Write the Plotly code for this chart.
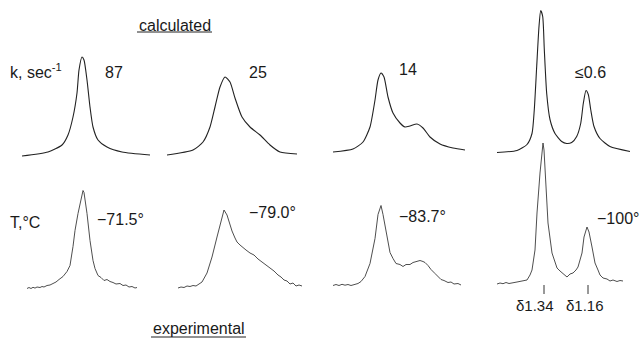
import plotly.graph_objects as go

# ---------------- data ----------------
# x: position along each spectrum (arbitrary units), y: intensity above baseline
calc_87_x = [2, 28, 42, 48, 53, 57, 59, 62, 64, 67, 70, 73, 78, 87, 102, 130]
calc_87_y = [0, 4, 11, 21, 39, 63, 86, 99, 96, 76, 49, 29, 16, 9, 4, 1]

calc_25_x = [2, 28, 38, 45, 50, 55, 60, 65, 70, 77, 85, 95, 105, 115, 132]
calc_25_y = [0, 5, 13, 28, 48, 68, 78, 73, 57, 38, 28, 20, 10, 3, 1]

calc_14_x = [3, 23, 33, 40, 45, 48, 51, 54, 58, 63, 70, 75, 80, 87, 93, 100, 110, 123, 135]
calc_14_y = [0, 3, 10, 25, 52, 72, 79, 75, 55, 39, 29, 25, 26, 28, 24, 15, 8, 4, 2]

calc_06_x = [2, 22, 32, 37, 39.3, 41.7, 44, 45.7, 47.7, 49.3, 51.7, 55, 60, 66.7, 71.7,
             76.7, 81.7, 85.7, 88.3, 91, 93.3, 95.7, 99, 105, 115, 135]
calc_06_y = [0, 2, 8, 19, 43, 86, 126, 142, 136, 103, 59, 33, 19, 11, 9,
             10, 16, 29, 49, 62, 58, 43, 26, 14, 6, 1]

exp_715_x = [2, 4, 6, 8, 10, 12, 15, 17, 19, 22, 25, 28, 31, 34, 38, 42, 45, 48, 50, 53, 56, 58,
             59, 62, 65, 68, 70, 73, 76, 79, 82, 85, 88, 91, 95, 98, 101, 104, 107, 110, 112]
exp_715_y = [0, 1, 0, 1.2, 0.4, 1.5, 1, 2, 1.5, 3, 3.5, 5, 6.5, 9, 12, 17, 23, 42, 58, 75, 90, 98,
             96, 75, 48, 28, 20, 13, 11, 8, 9, 7, 6, 4.5, 5, 3, 3.5, 1.5, 2, 0.5, 1]

exp_790_x = [3, 6, 9, 12, 15, 18, 21, 24, 27, 32, 37, 42, 46, 49, 52, 55, 57, 60, 62, 65, 67, 71,
             75, 79, 83, 87, 91, 95, 99, 103, 106, 109, 112, 115, 118, 121, 124, 127]
exp_790_y = [0, 1, 0.5, 2, 1.5, 2.5, 2, 4, 6, 15, 31, 51, 68, 78, 73, 62, 57, 50, 46, 43, 41, 38,
             35, 33, 29, 26, 23, 20, 17, 13, 11, 8, 7, 4, 5, 2, 3, 2]

exp_837_x = [3, 6, 9, 12, 15, 18, 21, 24, 28, 31, 35, 40, 45, 48, 51, 53, 57, 60, 63, 66, 70, 73,
             76, 80, 83, 87, 90, 93, 95, 98, 101, 105, 108, 111, 114, 118, 121, 124, 128, 131]
exp_837_y = [0, 1, 0, 1.2, 0.3, 1, 0, 0.8, 2, 4, 9, 22, 47, 71, 80, 71, 47, 33, 27, 22, 21, 19,
             21, 21, 23, 24, 25, 24, 23, 20, 16, 12, 9, 6, 5, 3, 3.5, 1.5, 2, 0.5]

exp_100_x = [2, 5, 8, 11, 14, 18, 22, 27, 32, 35, 37, 40, 42, 45, 47, 48, 49, 51, 53, 57, 60,
             62, 65, 67, 70, 72, 75, 78, 81, 83, 87, 89, 92, 94, 97, 100, 103, 105, 108, 112,
             115, 118, 122, 125, 128]
exp_100_y = [0, 1, 0.3, 1.5, 0.5, 1, 2, 3, 4, 9, 14, 34, 71, 111, 137, 141, 134, 101, 61, 31, 22,
             16, 13, 11, 8, 7, 10, 11, 14, 17, 31, 47, 57, 52, 37, 21, 14, 9, 6, 5,
             3, 4, 2.5, 3.5, 3]

shift_x = [49, 93]          # tick marks under the -100 deg spectrum
shift_labels = ["\u03b41.34", "\u03b41.16"]

rate_labels = ["87", "25", "14", "\u22640.6"]
temp_labels = ["\u221271.5\u00b0", "\u221279.0\u00b0", "\u221283.7\u00b0", "\u2212100\u00b0"]

calc = [(calc_87_x, calc_87_y), (calc_25_x, calc_25_y), (calc_14_x, calc_14_y), (calc_06_x, calc_06_y)]
expt = [(exp_715_x, exp_715_y), (exp_790_x, exp_790_y), (exp_837_x, exp_837_y), (exp_100_x, exp_100_y)]

# ---------------- layout geometry ----------------
W, H = 642, 344
XR = 140            # x range width (px)
YLO, YHI = -30, 150
top_left = [20, 165, 330, 495]
top_base = [156, 155, 152, 152.5]
bot_left = [25, 175, 330, 495]
bot_base = [288.5, 288, 285.5, 284]

fig = go.Figure()
layout_axes = {}
FONT = "Liberation Sans, Arial, sans-serif"


def add_panel(idx, xs, ys, left, base, color, width, shape):
    xa = "x" if idx == 1 else f"x{idx}"
    ya = "y" if idx == 1 else f"y{idx}"
    fig.add_trace(go.Scatter(x=xs, y=ys, mode="lines", xaxis=xa, yaxis=ya,
                             line=dict(color=color, width=width, shape=shape, smoothing=0.6),
                             hoverinfo="skip", showlegend=False))
    top_px = base - YHI
    bot_px = base - YLO
    xd = [left / W, (left + XR) / W]
    yd = [max(0, 1 - bot_px / H), min(1, 1 - top_px / H)]
    common = dict(visible=False, fixedrange=True, showgrid=False, zeroline=False)
    layout_axes["xaxis" if idx == 1 else f"xaxis{idx}"] = dict(domain=xd, range=[0, XR],
                                                               anchor=ya, **common)
    layout_axes["yaxis" if idx == 1 else f"yaxis{idx}"] = dict(domain=yd, range=[YLO, YHI],
                                                               anchor=xa, **common)
    return xa, ya


for i, (xs, ys) in enumerate(calc):
    add_panel(i + 1, xs, ys, top_left[i], top_base[i], "#222222", 1.1, "spline")
for i, (xs, ys) in enumerate(expt):
    add_panel(i + 5, xs, ys, bot_left[i], bot_base[i], "#3a3a3a", 0.9, "linear")

# chemical shift ticks on last experimental panel
for sx in shift_x:
    fig.add_trace(go.Scatter(x=[sx, sx], y=[-1, -10], mode="lines", xaxis="x8", yaxis="y8",
                             line=dict(color="#333", width=1), hoverinfo="skip", showlegend=False))

fig.update_layout(**layout_axes)

ann = []


def txt(text, px, py, size=16, xanchor="center"):
    ann.append(dict(text=text, x=px / W, y=1 - py / H, xref="paper", yref="paper",
                    showarrow=False, xanchor=xanchor, yanchor="middle",
                    font=dict(family=FONT, size=size, color="#1a1a1a")))


txt("calculated", 175, 25, 16)
txt("experimental", 199, 328, 16)
txt("k, sec<sup>-1</sup>", 8, 71, 16, "left")
txt("T,\u00b0C", 8, 222, 16, "left")
for lab, px, py in zip(rate_labels, [114, 258, 408, 590], [72, 72, 69, 72]):
    txt(lab, px, py, 16)
for lab, px, py, xa in zip(temp_labels, [95, 247, 397, 641], [219, 212, 216, 218],
                           ["left", "left", "left", "right"]):
    txt(lab, px, py, 16, xa)
for lab, sx, dx in zip(shift_labels, shift_x, [-9, -3]):
    ann.append(dict(text=lab, x=sx + dx, y=-21, xref="x8", yref="y8", showarrow=False,
                    xanchor="center", yanchor="middle",
                    font=dict(family=FONT, size=15, color="#1a1a1a")))

shapes = [
    dict(type="line", xref="paper", yref="paper", x0=137 / W, x1=212 / W,
         y0=1 - 32 / H, y1=1 - 32 / H, line=dict(color="#222", width=1)),
    dict(type="line", xref="paper", yref="paper", x0=151 / W, x1=246 / W,
         y0=1 - 337 / H, y1=1 - 337 / H, line=dict(color="#222", width=1)),
]

fig.update_layout(width=W, height=H, margin=dict(l=0, r=0, t=0, b=0),
                  paper_bgcolor="white", plot_bgcolor="rgba(0,0,0,0)",
                  annotations=ann, shapes=shapes, showlegend=False)

fig.write_html("out.html", config={"displayModeBar": False},
               post_script="document.body.style.margin='0';document.body.style.overflow='hidden';")
